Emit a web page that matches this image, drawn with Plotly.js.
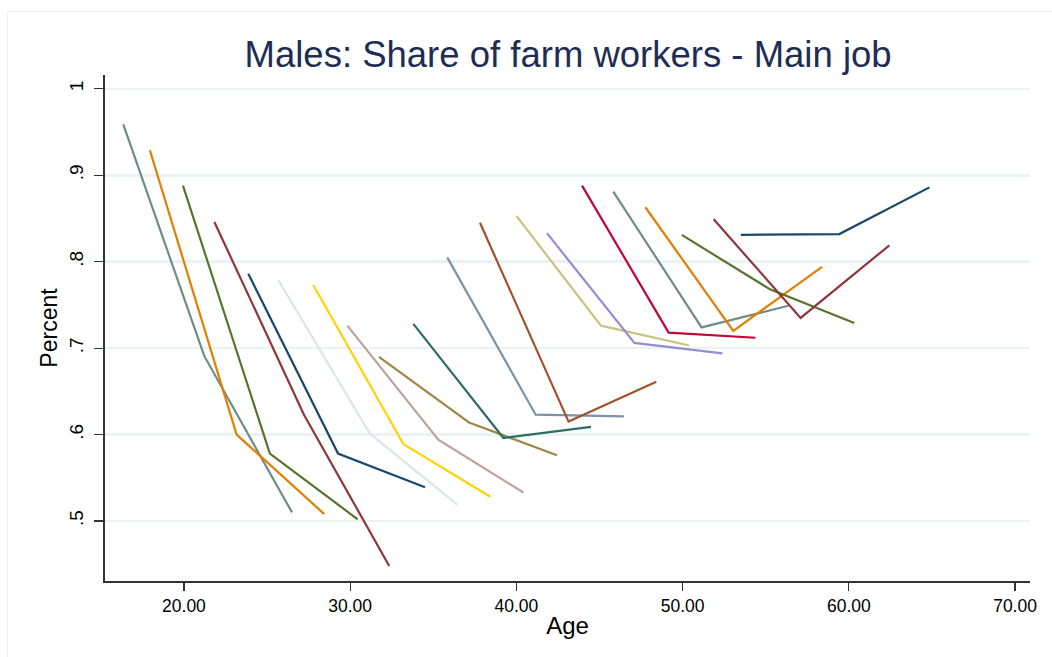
<!DOCTYPE html>
<html>
<head>
<meta charset="utf-8">
<script src="https://cdn.plot.ly/plotly-3.0.1.min.js"></script>
<style>
  html, body { margin: 0; padding: 0; background: #ffffff; }
  #wrap { position: relative; width: 1052px; height: 657px; overflow: hidden; }
  #frame { position: absolute; left: 7px; top: 11px; width: 1060px; height: 660px; border: 1px solid #efefef; pointer-events: none; }
  #chart { position: absolute; left: 0; top: 0; width: 1052px; height: 657px; }
</style>
</head>
<body>
<div id="wrap">
  <div id="frame"></div>
  <div id="chart"></div>
</div>
<script>
// Age at each observation, one array per cohort line
const cohortAges = [
  [16.35, 21.22, 26.50],
  [17.95, 23.17, 28.44],
  [19.94, 25.17, 30.45],
  [21.83, 27.22, 32.35],
  [23.87, 29.27, 34.50],
  [25.67, 31.19, 36.44],
  [27.78, 33.20, 38.43],
  [29.83, 35.30, 40.42],
  [31.73, 37.15, 42.44],
  [33.80, 39.22, 44.49],
  [35.84, 41.16, 46.47],
  [37.81, 43.14, 48.42],
  [40.00, 45.09, 50.40],
  [41.84, 47.10, 52.39],
  [43.95, 49.16, 54.38],
  [45.83, 51.14, 56.36],
  [47.76, 53.05, 58.39],
  [49.95, 55.26, 60.33],
  [51.87, 57.10, 62.44],
  [53.50, 59.43, 64.85]
];
// Share of farm workers (main job) for each cohort line
const cohortShares = [
  [0.959, 0.691, 0.510],
  [0.929, 0.600, 0.508],
  [0.888, 0.578, 0.502],
  [0.846, 0.623, 0.448],
  [0.786, 0.578, 0.539],
  [0.779, 0.601, 0.519],
  [0.773, 0.589, 0.528],
  [0.726, 0.594, 0.533],
  [0.690, 0.614, 0.576],
  [0.728, 0.596, 0.609],
  [0.805, 0.623, 0.621],
  [0.845, 0.615, 0.661],
  [0.853, 0.726, 0.703],
  [0.833, 0.706, 0.694],
  [0.888, 0.718, 0.712],
  [0.881, 0.724, 0.749],
  [0.863, 0.720, 0.794],
  [0.831, 0.768, 0.729],
  [0.849, 0.735, 0.819],
  [0.831, 0.832, 0.886]
];
const lineColors = [
  '#6e8e84', '#e37e00', '#55752f', '#90353b', '#1a476f',
  '#d9e6eb', '#ffd200', '#bfa19c', '#9c8847', '#2d6d66',
  '#7b92a8', '#a0522d', '#cac27e', '#938dd2', '#c10534',
  '#6e8e84', '#e37e00', '#55752f', '#90353b', '#1a476f'
];
const xTickVals = [20, 30, 40, 50, 60, 70];
const xTickText = ['20.00', '30.00', '40.00', '50.00', '60.00', '70.00'];
const yTickVals = [0.5, 0.6, 0.7, 0.8, 0.9, 1];
const yTickText = ['.5', '.6', '.7', '.8', '.9', '1'];

const traces = cohortAges.map((ages, i) => ({
  x: ages,
  y: cohortShares[i],
  type: 'scatter',
  mode: 'lines',
  line: { color: lineColors[i], width: 2.2 },
  showlegend: false,
  hoverinfo: 'x+y'
}));

const layout = {
  width: 1052,
  height: 657,
  paper_bgcolor: 'rgba(0,0,0,0)',
  plot_bgcolor: '#ffffff',
  margin: { l: 105, r: 22, t: 75, b: 76 },
  font: { family: 'Liberation Sans, Arial, sans-serif', color: '#000000' },
  title: {
    text: 'Males: Share of farm workers - Main job',
    font: { size: 36.5, color: '#1e2d53', family: 'Liberation Sans, Arial, sans-serif' },
    x: 0.54, xanchor: 'center',
    y: 0.918, yanchor: 'middle'
  },
  xaxis: {
    range: [15.25, 70.9],
    tickvals: xTickVals,
    ticktext: xTickText,
    ticks: 'outside',
    ticklen: 8,
    tickwidth: 1.2,
    tickcolor: '#333333',
    tickfont: { size: 17.5 },
    showline: true,
    linecolor: '#333333',
    linewidth: 1.6,
    showgrid: false,
    zeroline: false,
    title: { text: 'Age', font: { size: 24 }, standoff: 2 }
  },
  yaxis: {
    range: [0.4306, 1.016],
    tickvals: yTickVals,
    ticktext: yTickText,
    ticks: 'outside',
    ticklen: 9,
    tickwidth: 1.2,
    tickcolor: '#333333',
    tickangle: -90,
    tickfont: { size: 19 },
    ticklabelstandoff: 4,
    showline: true,
    linecolor: '#333333',
    linewidth: 1.6,
    showgrid: true,
    gridcolor: '#eaf2f3',
    gridwidth: 2.5,
    zeroline: false,
    title: { text: 'Percent', font: { size: 23 }, standoff: 2 }
  }
};

Plotly.newPlot('chart', traces, layout, { displayModeBar: false, staticPlot: true });
</script>
</body>
</html>
